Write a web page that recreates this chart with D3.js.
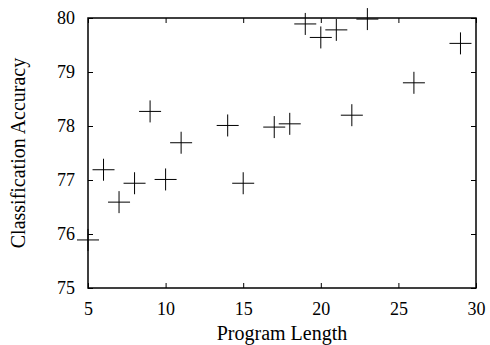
<!DOCTYPE html>
<html>
<head>
<meta charset="utf-8">
<script src="https://cdn.jsdelivr.net/npm/d3@7"></script>
<style>
  body { margin: 0; background: #fff; }
  svg { display: block; }
  svg text { font-family: "Liberation Serif", "Times New Roman", serif !important; }
</style>
</head>
<body>
<svg id="chart" width="490" height="345"></svg>
<script>
// data
const programLength = [5, 6, 7, 8, 9, 10, 11, 14, 15, 17, 18, 19, 20, 21, 22, 23, 26, 29];
const accuracy = [75.89, 77.19, 76.59, 76.94, 78.27, 77.01, 77.69, 78.01, 76.94, 77.98, 78.04, 79.89, 79.64, 79.78, 78.20, 79.98, 78.80, 79.53];
const xTicks = [5, 10, 15, 20, 25, 30];
const yTicks = [75, 76, 77, 78, 79, 80];

const plotLeft = 88, plotRight = 476, plotTop = 18, plotBottom = 288;

const svg = d3.select("#chart");

const x = d3.scaleLinear().domain([5, 30]).range([plotLeft, plotRight]);
const y = d3.scaleLinear().domain([75, 80]).range([plotBottom, plotTop]);

//axes, ticks pointing inward
function styleAxis(g) {
  g.attr("font-size", 18);
  g.select(".domain").remove();
  g.selectAll(".tick line").attr("stroke", "#000").attr("stroke-width", 1);
  g.selectAll("text").attr("fill", "#000");
}

svg.append("g")
  .attr("transform", "translate(0," + plotBottom + ")")
  .call(d3.axisBottom(x).tickValues(xTicks).tickSize(-5).tickPadding(14).tickFormat(d3.format("d")))
  .call(styleAxis);

svg.append("g")
  .attr("transform", "translate(0," + plotTop + ")")
  .call(d3.axisTop(x).tickValues(xTicks).tickSize(-5).tickFormat(""))
  .call(styleAxis);

svg.append("g")
  .attr("transform", "translate(" + plotLeft + ",0)")
  .call(d3.axisLeft(y).tickValues(yTicks).tickSize(-5).tickPadding(13).tickFormat(d3.format("d")))
  .call(styleAxis);

svg.append("g")
  .attr("transform", "translate(" + plotRight + ",0)")
  .call(d3.axisRight(y).tickValues(yTicks).tickSize(-5).tickFormat(""))
  .call(styleAxis);

//frame
svg.append("rect")
  .attr("x", plotLeft).attr("y", plotTop)
  .attr("width", plotRight - plotLeft).attr("height", plotBottom - plotTop)
  .attr("fill", "none").attr("stroke", "#000").attr("stroke-width", 1.5);

//plus markers
const arm = 11;
const pts = svg.append("g").attr("stroke", "#000").attr("stroke-width", 1);
programLength.forEach((d, i) => {
  const cx = x(d), cy = y(accuracy[i]);
  pts.append("line").attr("x1", cx - arm).attr("x2", cx + arm).attr("y1", cy).attr("y2", cy);
  pts.append("line").attr("x1", cx).attr("x2", cx).attr("y1", cy - arm).attr("y2", cy + arm);
});

//axis titles
svg.append("text")
  .attr("x", (plotLeft + plotRight) / 2)
  .attr("y", 340)
  .attr("text-anchor", "middle")
  .style("font-size", "20px")
  .text("Program Length");

svg.append("text")
  .attr("transform", "translate(25," + (plotTop + plotBottom) / 2 + ") rotate(-90)")
  .attr("text-anchor", "middle")
  .style("font-size", "20px")
  .text("Classification Accuracy");
</script>
</body>
</html>
